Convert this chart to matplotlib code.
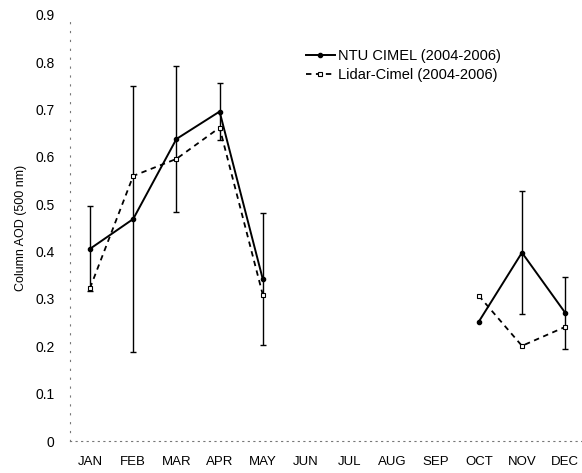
import matplotlib
matplotlib.use("Agg")
import matplotlib.pyplot as plt

months = ["JAN", "FEB", "MAR", "APR", "MAY", "JUN", "JUL", "AUG", "SEP", "OCT", "NOV", "DEC"]

# NTU CIMEL (2004-2006): month index, mean AOD, std
ntu_x = [1, 2, 3, 4, 5]
ntu_y = [0.406, 0.469, 0.638, 0.696, 0.342]
ntu_err = [0.09, 0.28, 0.155, 0.06, 0.14]
ntu_x2 = [10, 11, 12]
ntu_y2 = [0.252, 0.398, 0.271]
ntu_err2 = [0.0, 0.13, 0.076]

# Lidar-Cimel (2004-2006)
lid_x = [1, 2, 3, 4, 5]
lid_y = [0.323, 0.560, 0.596, 0.662, 0.309]
lid_x2 = [10, 11, 12]
lid_y2 = [0.307, 0.201, 0.241]

plt.rcParams["font.family"] = ["Liberation Sans", "DejaVu Sans"]

fig = plt.figure(figsize=(5.82, 4.73), dpi=100)
ax = fig.add_axes([70 / 582, 32 / 473, 512 / 582, 426 / 473])

# error bars (NTU only)
ax.errorbar(ntu_x, ntu_y, yerr=ntu_err, fmt="none", ecolor="black",
            elinewidth=1.0, capsize=2.5, capthick=1.0, zorder=2)
ax.errorbar(ntu_x2[1:], ntu_y2[1:], yerr=ntu_err2[1:], fmt="none", ecolor="black",
            elinewidth=1.0, capsize=2.5, capthick=1.0, zorder=2)

# NTU solid lines
ax.plot(ntu_x, ntu_y, "-", color="black", lw=1.4, marker="o", ms=3,
        mfc="black", mec="black", zorder=3, label="NTU CIMEL (2004-2006)")
ax.plot(ntu_x2, ntu_y2, "-", color="black", lw=1.4, marker="o", ms=3,
        mfc="black", mec="black", zorder=3)

# Lidar dashed lines
ax.plot(lid_x, lid_y, "--", color="black", lw=1.3, dashes=(3, 2.5), marker="s",
        ms=3.5, mfc="white", mec="black", mew=0.8, zorder=4,
        label="Lidar-Cimel (2004-2006)")
ax.plot(lid_x2, lid_y2, "--", color="black", lw=1.3, dashes=(3, 2.5), marker="s",
        ms=3.5, mfc="white", mec="black", mew=0.8, zorder=4)

ax.set_xlim(0.537, 12.39)
ax.set_ylim(0, 0.9)
ax.set_xticks(range(1, 13))
ax.set_xticklabels(months, fontsize=9.5)
ax.set_yticks([0, 0.1, 0.2, 0.3, 0.4, 0.5, 0.6, 0.7, 0.8, 0.9])
ax.set_yticklabels(["0", "0.1", "0.2", "0.3", "0.4", "0.5", "0.6", "0.7", "0.8", "0.9"],
                   fontsize=10)
ax.tick_params(axis="both", length=0)
ax.tick_params(axis="y", pad=11)
ax.tick_params(axis="x", pad=11)
ax.set_ylabel("Column AOD (500 nm)", fontsize=9, labelpad=6)

for s in ["top", "right"]:
    ax.spines[s].set_visible(False)
ax.spines["left"].set_linestyle((0, (1, 7)))
ax.spines["bottom"].set_linestyle((0, (1, 4)))
for s in ["left", "bottom"]:
    ax.spines[s].set_color("#777777")
    ax.spines[s].set_linewidth(0.8)

ax.legend(loc="upper left", bbox_to_anchor=(0.435, 0.95), frameon=False,
          fontsize=10.5, handlelength=2.0, handletextpad=0.2, labelspacing=0.3)

fig.savefig("out.png", dpi=100, facecolor="white")
